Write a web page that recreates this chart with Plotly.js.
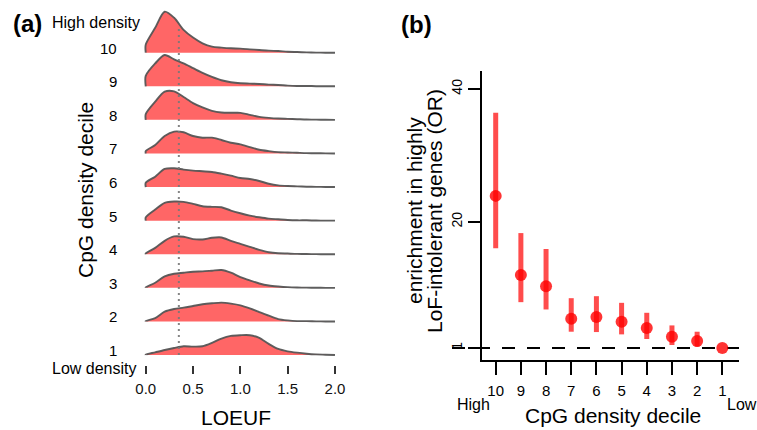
<!DOCTYPE html>
<html>
<head>
<meta charset="utf-8">
<script src="https://cdn.plot.ly/plotly-3.0.1.min.js"></script>
<style>html,body{margin:0;padding:0;background:#fff;}#chart{width:757px;height:430px;}</style>
</head>
<body>
<div id="chart"></div>
<script>
// ---------- Panel (a): LOEUF ridgeline densities by CpG density decile ----------
const loeufGrid = [0,0.1,0.2,0.3,0.4,0.5,0.6,0.7,0.8,0.9,1.0,1.1,1.2,1.3,1.4,1.5,1.6,1.7,1.8,1.9,2.0];
// heights in units of ridge spacing
const dens10 = [0.24,0.74,1.22,1.04,0.68,0.45,0.28,0.18,0.15,0.13,0.12,0.10,0.08,0.06,0.05,0.03,0.02,0.01,0.003,0,0];
const dens9  = [0.31,0.68,0.93,0.80,0.68,0.54,0.40,0.28,0.18,0.12,0.09,0.08,0.07,0.05,0.04,0.02,0.01,0.01,0.003,0,0];
const dens8  = [0.17,0.54,0.84,0.85,0.68,0.50,0.37,0.27,0.22,0.21,0.21,0.15,0.09,0.06,0.04,0.03,0.02,0.01,0.006,0.003,0];
const dens7  = [0.07,0.25,0.52,0.65,0.63,0.52,0.47,0.47,0.40,0.32,0.27,0.19,0.11,0.07,0.04,0.03,0.02,0.01,0.006,0.003,0];
const dens6  = [0.13,0.31,0.54,0.56,0.52,0.49,0.47,0.45,0.40,0.34,0.27,0.24,0.18,0.10,0.05,0.03,0.02,0.01,0.006,0.003,0];
const dens5  = [0.10,0.33,0.53,0.57,0.56,0.50,0.43,0.41,0.40,0.30,0.22,0.15,0.10,0.06,0.04,0.02,0.01,0.01,0.003,0,0];
const dens4  = [0.02,0.19,0.40,0.53,0.52,0.45,0.44,0.49,0.50,0.40,0.31,0.22,0.13,0.06,0.03,0.02,0.01,0.006,0.003,0,0];
const dens3  = [0.01,0.15,0.34,0.42,0.45,0.48,0.49,0.51,0.53,0.45,0.32,0.22,0.13,0.07,0.04,0.02,0.01,0.006,0.003,0,0];
const dens2  = [0.01,0.10,0.29,0.37,0.41,0.46,0.51,0.54,0.56,0.53,0.48,0.39,0.28,0.17,0.07,0.03,0.01,0.01,0.003,0,0];
const dens1  = [0.01,0.08,0.15,0.21,0.26,0.25,0.26,0.36,0.49,0.57,0.59,0.59,0.51,0.33,0.18,0.11,0.07,0.04,0.02,0.01,0];
const ridgeDeciles = [10,9,8,7,6,5,4,3,2,1];
const ridgeLabels = ['10','9','8','7','6','5','4','3','2','1'];
const ridgeDensities = [dens10,dens9,dens8,dens7,dens6,dens5,dens4,dens3,dens2,dens1];
const loeufTicks = [0,0.5,1.0,1.5,2.0];
const loeufCutoff = 0.35;

// ---------- Panel (b): enrichment (OR) by CpG density decile ----------
const orDeciles = [10,9,8,7,6,5,4,3,2,1];
const orValue   = [23.9,12.0,10.3,5.4,5.65,4.95,4.0,2.7,2.05,1.0];
const orLow     = [16.0,7.9,6.8,3.45,3.4,3.05,2.35,1.45,1.2,1.0];
const orHigh    = [36.4,18.3,15.9,8.5,8.8,7.8,6.3,4.4,3.45,1.0];
const orTicks   = [1,20,40];
const nullOR    = 1;

const W = 757, H = 430;
const px = v => v / W;
const py = v => 1 - v / H;
const FONT = 'Liberation Sans, Arial, Helvetica, sans-serif';

const traces = [];
ridgeDeciles.forEach((d, i) => {
  const h = ridgeDensities[i];
  const xs = [loeufGrid[0]].concat(loeufGrid);
  const ys = [d].concat(h.map(v => d + v));
  traces.push({
    type: 'scatter', mode: 'lines', x: xs, y: ys,
    xaxis: 'x', yaxis: 'y',
    fill: 'toself', fillcolor: 'rgba(255,0,0,0.6)',
    line: {color: 'rgba(85,85,85,0.95)', width: 1.9, shape: 'spline', smoothing: 0.8},
    hoverinfo: 'skip', showlegend: false
  });
});

traces.push({
  type: 'scatter', mode: 'markers', x: orDeciles, y: orValue,
  xaxis: 'x2', yaxis: 'y2',
  marker: {color: 'rgba(255,0,0,0.8)', size: 12, line: {width: 0}},
  error_y: {
    type: 'data', symmetric: false,
    array: orHigh.map((v, i) => v - orValue[i]),
    arrayminus: orValue.map((v, i) => v - orLow[i]),
    width: 0, thickness: 5, color: 'rgba(255,0,0,0.7)'
  },
  hoverinfo: 'skip', showlegend: false, cliponaxis: false
});

const ann = (text, x, y, size, opts) => Object.assign({
  text, x: px(x), y: py(y), xref: 'paper', yref: 'paper',
  xanchor: 'center', yanchor: 'middle', showarrow: false,
  font: {family: FONT, size, color: '#000'}
}, opts || {});

const rowLabelAnns = ridgeDeciles.map((d, i) => ({
  text: ridgeLabels[i], x: px(119), y: d, xref: 'paper', yref: 'y',
  xanchor: 'right', yanchor: 'middle', yshift: 4.5, showarrow: false,
  font: {family: FONT, size: 15, color: '#000'}
}));

const layout = {
  width: W, height: H,
  margin: {l: 0, r: 0, t: 0, b: 0},
  paper_bgcolor: '#fff', plot_bgcolor: 'rgba(0,0,0,0)',
  showlegend: false,
  font: {family: FONT, color: '#000'},
  xaxis: {
    domain: [px(141), px(339.7)], range: [-0.05, 2.05],
    showgrid: false, zeroline: false, showline: false,
    ticks: 'outside', ticklen: 8, tickwidth: 2, tickcolor: '#333',
    tickvals: loeufTicks, tickformat: '.1f',
    tickfont: {size: 15, color: '#111'}, ticklabelstandoff: 2
  },
  yaxis: {
    domain: [py(365.1), py(2.3)], range: [0.7, 11.5],
    showgrid: false, zeroline: false, showline: false,
    ticks: '', showticklabels: false
  },
  xaxis2: {
    domain: [px(482), px(739)], range: [10.544, 0.337],
    anchor: 'y2',
    showgrid: false, zeroline: false, showline: true, linewidth: 2, linecolor: '#000',
    ticks: 'outside', ticklen: 13, tickwidth: 2, tickcolor: '#000',
    tickvals: orDeciles, ticktext: orDeciles.map(String),
    tickfont: {size: 15, color: '#000'}, ticklabelstandoff: 3
  },
  yaxis2: {
    domain: [py(360), py(71)], range: [-0.807, 42.70],
    anchor: 'x2',
    showgrid: false, zeroline: false, showline: true, linewidth: 2, linecolor: '#000',
    ticks: 'outside', ticklen: 12, tickwidth: 2, tickcolor: '#000',
    tickvals: orTicks, tickangle: -90,
    tickfont: {size: 14, color: '#000'}
  },
  shapes: [
    {type: 'line', xref: 'x', yref: 'paper', x0: loeufCutoff, x1: loeufCutoff,
     y0: py(355), y1: py(25), layer: 'above',
     line: {color: 'rgba(120,120,120,0.9)', width: 2, dash: '2px,4px'}},
    {type: 'line', xref: 'paper', yref: 'y2', x0: px(452), x1: px(739),
     y0: nullOR, y1: nullOR, layer: 'below',
     line: {color: '#000', width: 2, dash: '13px,12px'}}
  ],
  annotations: rowLabelAnns.concat([
    ann('<b>(a)</b>', 27.5, 23, 24),
    ann('<b>(b)</b>', 416, 24, 24),
    ann('High density', 96, 22.5, 16),
    ann('Low density', 94.5, 368, 16),
    ann('CpG density decile', 85, 190, 21, {textangle: -90}),
    ann('LOEUF', 236, 417, 21),
    ann('enrichment in highly', 414, 211, 21, {textangle: -90}),
    ann('LoF-intolerant genes (OR)', 434, 211, 21, {textangle: -90}),
    ann('CpG density decile', 613, 415, 21),
    ann('High', 473.7, 404, 16),
    ann('Low', 741.5, 404, 16)
  ])
};

Plotly.newPlot('chart', traces, layout, {displayModeBar: false, staticPlot: true});
</script>
</body>
</html>
